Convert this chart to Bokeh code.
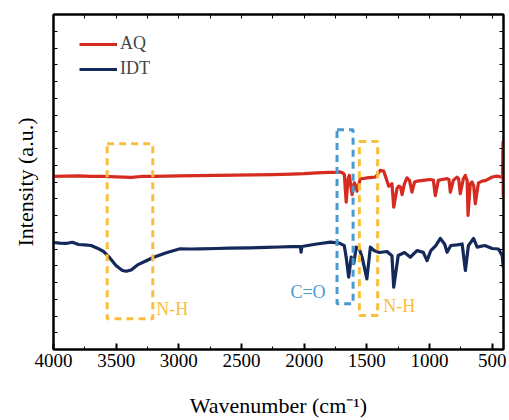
from bokeh.plotting import figure
from bokeh.models import (Range1d, LinearAxis, FixedTicker, Label, Legend, LegendItem,
                          CustomJSTickFormatter)
from bokeh.embed import file_html
from bokeh.resources import INLINE

# ---------------- data ----------------
aq_wn = [4000, 3900, 3800, 3700, 3600, 3500, 3380, 3300, 3200, 3000, 2850, 2700, 2550,
         2400, 2250, 2100, 2000, 1900, 1800, 1750, 1711, 1690, 1680, 1665, 1650, 1640,
         1618, 1600, 1590, 1578, 1552, 1520, 1500, 1460, 1430, 1393, 1366, 1345, 1326,
         1300, 1286, 1260, 1246, 1232, 1219, 1200, 1180, 1160, 1140, 1120, 1100, 1050,
         1000, 970, 954, 930, 900, 860, 845, 834, 810, 781, 768, 755, 730, 715, 700,
         693, 675, 661, 648, 635, 610, 580, 550, 500, 462, 430, 418, 414, 412]
aq_int = [10.33, 10.35, 10.36, 10.33, 10.33, 10.31, 10.28, 10.33, 10.34, 10.37, 10.38,
          10.40, 10.41, 10.42, 10.44, 10.47, 10.50, 10.55, 10.57, 10.58, 10.60, 10.52,
          10.45, 8.80, 10.20, 10.40, 9.25, 9.95, 9.80, 9.45, 10.20, 10.22, 10.25, 10.28,
          10.30, 10.69, 10.65, 10.20, 9.75, 9.90, 8.50, 9.60, 9.75, 9.70, 9.25, 9.90,
          10.25, 10.10, 9.40, 10.00, 10.05, 10.10, 10.15, 10.12, 9.19, 10.10, 10.15,
          10.20, 10.15, 9.39, 10.10, 10.29, 10.20, 9.30, 10.20, 10.39, 10.10, 8.00,
          9.90, 10.00, 9.80, 8.70, 9.95, 10.05, 10.10, 10.30, 10.35, 10.30, 10.30,
          12.40, 9.10]

idt_wn = [4000, 3950, 3900, 3850, 3800, 3750, 3700, 3650, 3600, 3560, 3500, 3450, 3420,
          3380, 3330, 3260, 3200, 3100, 2990, 2900, 2830, 2700, 2600, 2430, 2300, 2200,
          2100, 2030, 2025, 2018, 1900, 1790, 1720, 1680, 1665, 1645, 1625, 1605, 1585,
          1560, 1538, 1500, 1472, 1440, 1400, 1340, 1300, 1286, 1250, 1200, 1153, 1100,
          1050, 1020, 990, 950, 914, 880, 860, 830, 780, 740, 714, 690, 649, 620, 560,
          500, 450, 420, 412]
idt_int = [6.39, 6.35, 6.33, 6.40, 6.27, 6.25, 6.21, 6.05, 5.85, 5.55, 5.00, 4.72, 4.67,
           4.75, 5.05, 5.30, 5.51, 5.78, 6.01, 6.00, 6.01, 6.03, 6.05, 6.07, 6.10, 6.12,
           6.14, 6.15, 5.81, 6.15, 6.30, 6.41, 6.35, 6.20, 5.50, 4.32, 5.51, 5.13, 6.11,
           6.00, 5.51, 4.22, 6.11, 5.90, 5.79, 5.85, 5.60, 3.72, 5.61, 5.79, 5.51, 5.91,
           5.80, 5.31, 5.90, 6.20, 6.63, 6.30, 5.81, 6.21, 6.25, 6.30, 4.72, 6.20, 6.63,
           6.11, 6.21, 6.03, 6.00, 5.60, 4.91]

x_ticks = [4000, 3500, 3000, 2500, 2000, 1500, 1000, 500]
x_minor_ticks = [3750, 3250, 2750, 2250, 1750, 1250, 750]
y_ticks = list(range(0, 21))

# annotation boxes (wavenumber / intensity) and their labels
box_left = [3572, 1738, 1560]
box_right = [3208, 1610, 1414]
box_top = [12.28, 13.12, 12.42]
box_bottom = [1.83, 2.73, 2.03]
box_colors = ["#fbbd3c", "#4a9ad0", "#fbbd3c"]
box_texts = ["N-H", "C=O", "N-H"]
box_text_x = [3180, 2110, 1369]
box_text_y = [2.39, 3.46, 2.57]

FONT = "Liberation Serif"
RED = "#d52b21"
NAVY = "#14285a"

p = figure(width=509, height=420, x_range=Range1d(4000, 410), y_range=Range1d(0, 20),
           output_backend="svg", toolbar_location=None,
           min_border_left=53, min_border_right=6, min_border_top=14, min_border_bottom=71)
p.background_fill_color = "white"
p.border_fill_color = "white"
p.xgrid.visible = False
p.ygrid.visible = False
p.outline_line_color = "black"
p.outline_line_width = 2

blank = CustomJSTickFormatter(code="return ''")

# bottom axis
xa = p.xaxis[0]
xa.ticker = FixedTicker(ticks=x_ticks, minor_ticks=x_minor_ticks)
xa.axis_line_width = 2
xa.major_tick_in = 6
xa.major_tick_out = 0
xa.minor_tick_in = 3
xa.minor_tick_out = 0
xa.major_tick_line_width = 2
xa.major_label_text_font = FONT
xa.major_label_text_font_size = "19px"
xa.major_label_text_color = "black"
xa.major_label_standoff = 4
xa.axis_label = "Wavenumber (cm\u207b\u00b9)"
xa.axis_label_text_font = FONT
xa.axis_label_text_font_size = "22px"
xa.axis_label_text_font_style = "normal"
xa.axis_label_text_color = "black"
xa.axis_label_standoff = 23

# left axis
ya = p.yaxis[0]
ya.ticker = FixedTicker(ticks=y_ticks, minor_ticks=[])
ya.formatter = blank
ya.axis_line_width = 2
ya.major_tick_in = 4
ya.major_tick_out = 0
ya.minor_tick_in = 0
ya.minor_tick_out = 0
ya.axis_label = "Intensity (a.u.)"
ya.axis_label_text_font = FONT
ya.axis_label_text_font_size = "22px"
ya.axis_label_text_font_style = "normal"
ya.axis_label_text_color = "black"
ya.axis_label_standoff = 16

# right axis
ra = LinearAxis(ticker=FixedTicker(ticks=y_ticks, minor_ticks=[]), formatter=blank,
                axis_line_width=2, major_tick_in=4, major_tick_out=0,
                minor_tick_in=0, minor_tick_out=0)
p.add_layout(ra, "right")

# top axis
ta = LinearAxis(ticker=FixedTicker(ticks=x_ticks + x_minor_ticks, minor_ticks=[]),
                formatter=blank, axis_line_width=2, major_tick_in=4, major_tick_out=0,
                minor_tick_in=0, minor_tick_out=0)
p.add_layout(ta, "above")

# spectra
r_aq = p.line(aq_wn, aq_int, line_color=RED, line_width=3.2, line_join="round")
r_idt = p.line(idt_wn, idt_int, line_color=NAVY, line_width=3.2, line_join="round")

# dashed boxes
for l, r, t, b, c in zip(box_left, box_right, box_top, box_bottom, box_colors):
    p.quad(left=[l], right=[r], top=[t], bottom=[b], fill_alpha=0, line_color=c,
           line_width=3, line_dash="7 5")

for tx, x, y, c in zip(box_texts, box_text_x, box_text_y, box_colors):
    p.add_layout(Label(x=x, y=y, text=tx, text_color=c, text_font=FONT,
                       text_font_size="18px", text_baseline="middle", text_align="left"))

legend = Legend(items=[LegendItem(label="AQ", renderers=[r_aq]),
                       LegendItem(label="IDT", renderers=[r_idt])],
                location=(26, 270), margin=0, padding=0, spacing=4,
                glyph_width=38, glyph_height=20, label_height=20, label_standoff=3,
                label_text_font=FONT, label_text_font_size="18px",
                border_line_alpha=0, background_fill_alpha=0)
p.add_layout(legend)

open("out.html", "w").write(file_html(p, INLINE))
